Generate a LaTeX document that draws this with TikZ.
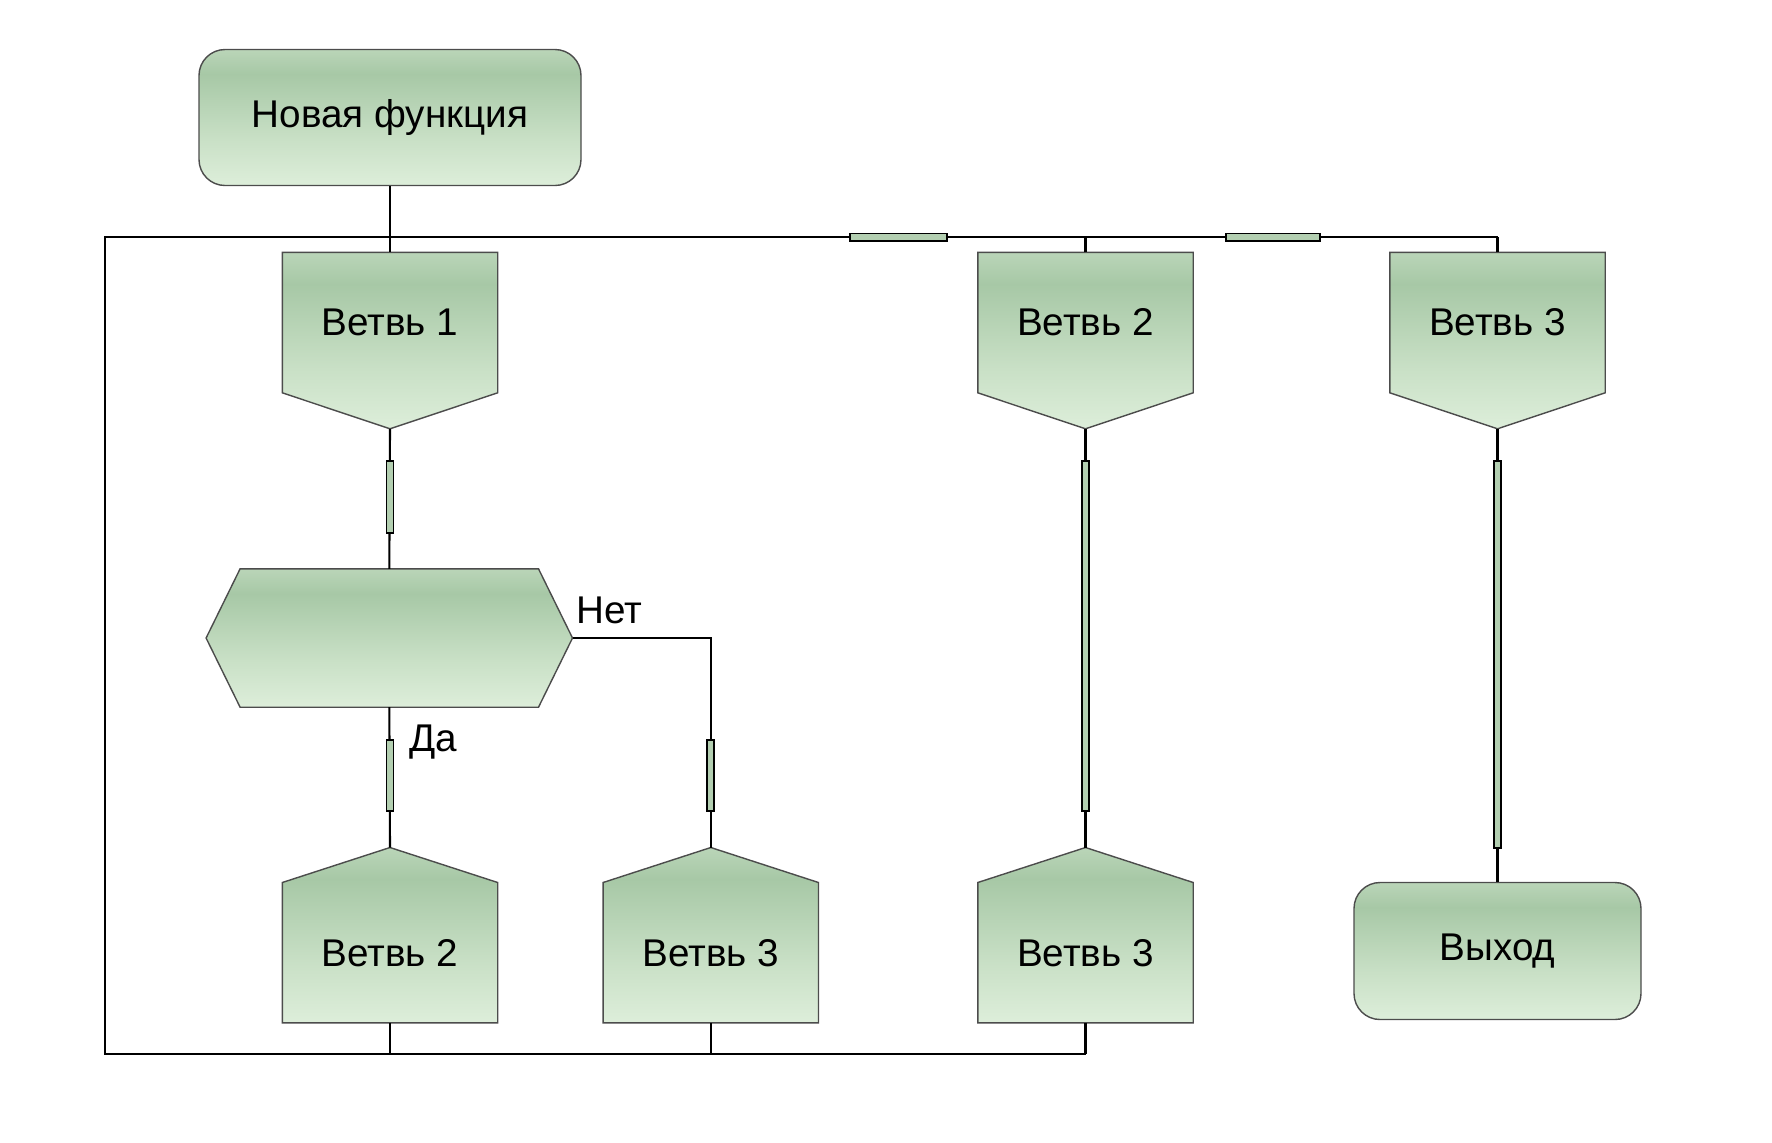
\documentclass[tikz,border=0pt]{standalone}
\usepackage{fontspec}
\setmainfont{Liberation Sans}
\usepackage{xcolor}
\usepackage{tikz}
\usetikzlibrary{positioning}
\pgfdeclarelayer{background}
\pgfsetlayers{background,main}
\definecolor{gtop}{HTML}{BAD5B8}
\definecolor{gdark}{HTML}{A7C8A6}
\definecolor{gmid}{HTML}{C9E0C6}
\definecolor{gbot}{HTML}{DDEEDA}
\definecolor{barfill}{HTML}{B3CFB1}
\pgfdeclareverticalshading{greenfade}{100bp}{color(0bp)=(gbot); color(25bp)=(gbot); color(42bp)=(gmid); color(66bp)=(gdark); color(75bp)=(gtop); color(100bp)=(gtop)}
\tikzstyle{startstop} = [rectangle, rounded corners=2.6mm, minimum width=3.82cm, minimum height=1.36cm, text centered, draw=black!70, line width=0.4pt, shading=greenfade]
\tikzstyle{brbody} = [rectangle, minimum width=2.14cm, minimum height=1.39cm, inner sep=0pt, text centered]
\tikzstyle{brfill} = [draw=black!70, line width=0.4pt, shading=greenfade]
\tikzstyle{line} = [line width=0.6pt]
\tikzstyle{vbar} = [rectangle, draw=black, line width=0.5pt, fill=barfill, minimum width=0.7mm, inner sep=0pt]
\tikzstyle{hbar} = [rectangle, draw=black, line width=0.5pt, fill=barfill, minimum height=0.75mm, inner sep=0pt]
% branch box, point at the bottom
\newcommand{\branchdown}[3]{%
  \node[brbody] (#1) at (#2) {#3};
  \coordinate (#1tip) at ([yshift=-3.6mm]#1.south);
  \begin{pgfonlayer}{background}
    \path[brfill] (#1.north west) -- (#1.north east) -- (#1.south east)
      -- (#1tip) -- (#1.south west) -- cycle;
  \end{pgfonlayer}}
% address box, point at the top
\newcommand{\branchup}[3]{%
  \node[brbody] (#1) at (#2) {#3};
  \coordinate (#1tip) at ([yshift=3.5mm]#1.north);
  \begin{pgfonlayer}{background}
    \path[brfill] (#1.south west) -- (#1.north west) -- (#1tip)
      -- (#1.north east) -- (#1.south east) -- cycle;
  \end{pgfonlayer}}

\begin{document}
\begin{tikzpicture}[font=\fontsize{11}{13}\selectfont]
\useasboundingbox (0,0) rectangle (17.72,-11.42);

\node[startstop] (start) at (3.90,-1.175) {Новая функция};
\node[startstop, minimum width=2.87cm, minimum height=1.37cm] (exit) at (14.975,-9.51) {Выход};

\branchdown{b1}{3.90,-3.226}{Ветвь 1}
\branchdown{b2}{10.855,-3.226}{Ветвь 2}
\branchdown{b3}{14.975,-3.226}{Ветвь 3}

\branchup{l1}{3.90,-9.527}{Ветвь 2}
\branchup{l2}{7.108,-9.527}{Ветвь 3}
\branchup{l3}{10.855,-9.527}{Ветвь 3}

% question
\node[brbody, minimum width=3.65cm, minimum height=1.37cm] (cond) at (3.893,-6.38) {};
\begin{pgfonlayer}{background}
  \path[brfill] (cond.west) -- ([xshift=3.4mm]cond.north west) -- ([xshift=-3.4mm]cond.north east)
    -- (cond.east) -- ([xshift=-3.4mm]cond.south east) -- ([xshift=3.4mm]cond.south west) -- cycle;
\end{pgfonlayer}

\coordinate (busL) at (1.051,-2.373);
\coordinate (busR) at (14.975,-2.373);
\coordinate (botR) at (10.855,-10.544);

\draw[line] (start.south) -- (b1.north);
\draw[line] (busR) -- (busL) -- (busL |- botR) -- (botR);
\draw[line] (b2.north) -- (b2.north |- busL);
\draw[line] (b3.north) -- (busR);
\draw[line] (b1tip) -- (cond.north);
\draw[line] (cond.south) -- (l1tip);
\draw[line] (cond.east) -- (l2tip |- cond.east) -- (l2tip);
\draw[line] (b2tip) -- (l3tip);
\draw[line] (b3tip) -- (exit.north);
\draw[line] (l1.south) -- (l1.south |- botR);
\draw[line] (l2.south) -- (l2.south |- botR);
\draw[line] (l3.south) -- (botR);

\node[hbar, minimum width=9.7mm] (bar1) at (8.984,-2.373) {};
\node[hbar, minimum width=9.4mm] (bar2) at (12.731,-2.373) {};
\node[vbar, minimum height=7.2mm] (bar3) at (3.90,-4.972) {};
\node[vbar, minimum height=7.1mm] (bar4) at (3.90,-7.758) {};
\node[vbar, minimum height=7.1mm] (bar5) at (7.108,-7.758) {};
\node[vbar, minimum height=35mm] (bar6) at (10.855,-6.3625) {};
\node[vbar, minimum height=38.65mm] (bar7) at (14.975,-6.5435) {};

\node[anchor=south west, inner xsep=0.3mm, inner ysep=1.3mm] (no) at (cond.east) {Нет};
\node[anchor=north west, inner sep=1.3mm] (yes) at ([xshift=0.6mm,yshift=-0.4mm]cond.south) {Да};
\end{tikzpicture}
\end{document}
